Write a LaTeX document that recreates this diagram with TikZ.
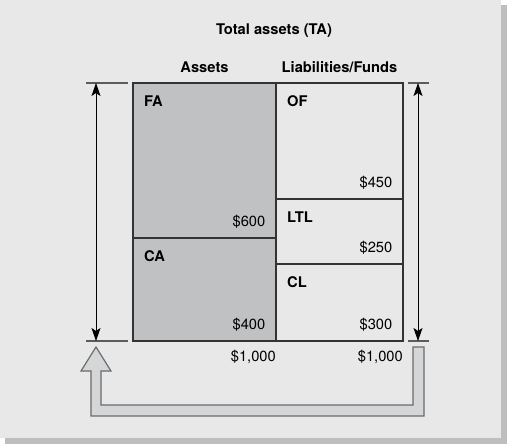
\documentclass[tikz,border=0pt]{standalone}
\usepackage{fontspec}
\setmainfont{TeX Gyre Heros}
\usepackage{xcolor}
\usetikzlibrary{arrows.meta,calc}
\definecolor{PanelGray}{HTML}{E8E8E8}
\definecolor{ShadowGray}{HTML}{BDBEC0}
\definecolor{AssetGray}{HTML}{C0C1C3}
\definecolor{BoxLine}{HTML}{333333}
\definecolor{HollowFill}{HTML}{D5D6D8}
\definecolor{HollowLine}{HTML}{6B6B6B}

\begin{document}
\begin{tikzpicture}[x=1pt,y=-1pt,
    cell/.style={draw=BoxLine,line width=1.2pt,inner sep=0pt,outer sep=0pt,anchor=north west},
    txt/.style={inner sep=0pt,font=\fontsize{14.7}{17.6}\selectfont},
    head/.style={txt,font=\fontsize{14.7}{17.6}\selectfont\bfseries,anchor=base},
    tag/.style={txt,font=\fontsize{14.7}{17.6}\selectfont\bfseries,anchor=base west},
    amount/.style={txt,anchor=base east},
    extline/.style={draw=BoxLine!80,line width=1.2pt},
    dimline/.style={draw=black,line width=0.8pt,{Stealth[length=13pt,width=9pt,inset=3pt]}-{Stealth[length=13pt,width=9pt,inset=3pt]}},
    hollow/.style={draw=HollowLine,fill=HollowFill,line width=1.2pt,line join=miter}]
    \path[use as bounding box] (0,0) rectangle (507,444);
    \fill[ShadowGray] (5,5) rectangle (507,444);
    \fill[PanelGray] (0,0) rectangle (501,438);
    % assets side
    \node[cell,fill=AssetGray,minimum width=143pt,minimum height=155pt] (fa) at (133,83) {};
    \node[cell,fill=AssetGray,minimum width=143pt,minimum height=103pt] (ca) at (fa.south west) {};
    % liabilities side
    \node[cell,minimum width=127pt,minimum height=116pt] (of) at (fa.north east) {};
    \node[cell,minimum width=127pt,minimum height=65pt] (ltl) at (of.south west) {};
    \node[cell,minimum width=127pt,minimum height=77pt] (cl) at (ltl.south west) {};
    % headings
    \node[head] (total) at (274,35) {Total assets (TA)};
    \node[head] (assets) at ([shift={(0,-10)}]fa.north) {Assets};
    \node[head] (funds) at ([shift={(0,-10)}]of.north) {Liabilities/Funds};
    % box labels and amounts
    \foreach \cellid/\name/\amt in {fa/FA/\$600,ca/CA/\$400,of/OF/\$450,ltl/LTL/\$250,cl/CL/\$300} {
      \node[tag] (\cellid-tag) at ([shift={(11,23.5)}]\cellid.north west) {\name};
      \node[amount] (\cellid-amt) at ([shift={(-10.5,-11.5)}]\cellid.south east) {\amt};
    }
    \node[amount] (asum) at ([shift={(0,20)}]ca.south east) {\$1,000};
    \node[amount] (fsum) at ([shift={(0,20)}]cl.south east) {\$1,000};
    % dimension arrows
    \foreach \x/\a/\b/\side in {96/86/128/l,418/408/429/r} {
      \coordinate (\side-top) at (\x,83);
      \coordinate (\side-bot) at (\x,341);
      \draw[extline] (\a,83) -- (\b,83);
      \draw[extline] (\a,341) -- (\b,341);
      \draw[dimline] (\side-bot) -- (\side-top);
    }
    % hollow return arrow
    \draw[hollow] (96,347) -- (111,371) -- (101,371) -- (101,405) -- (413,405)
      -- (413,347) -- (424,347) -- (424,416) -- (91,416) -- (91,371) -- (81,371) -- cycle;
\end{tikzpicture}
\end{document}
